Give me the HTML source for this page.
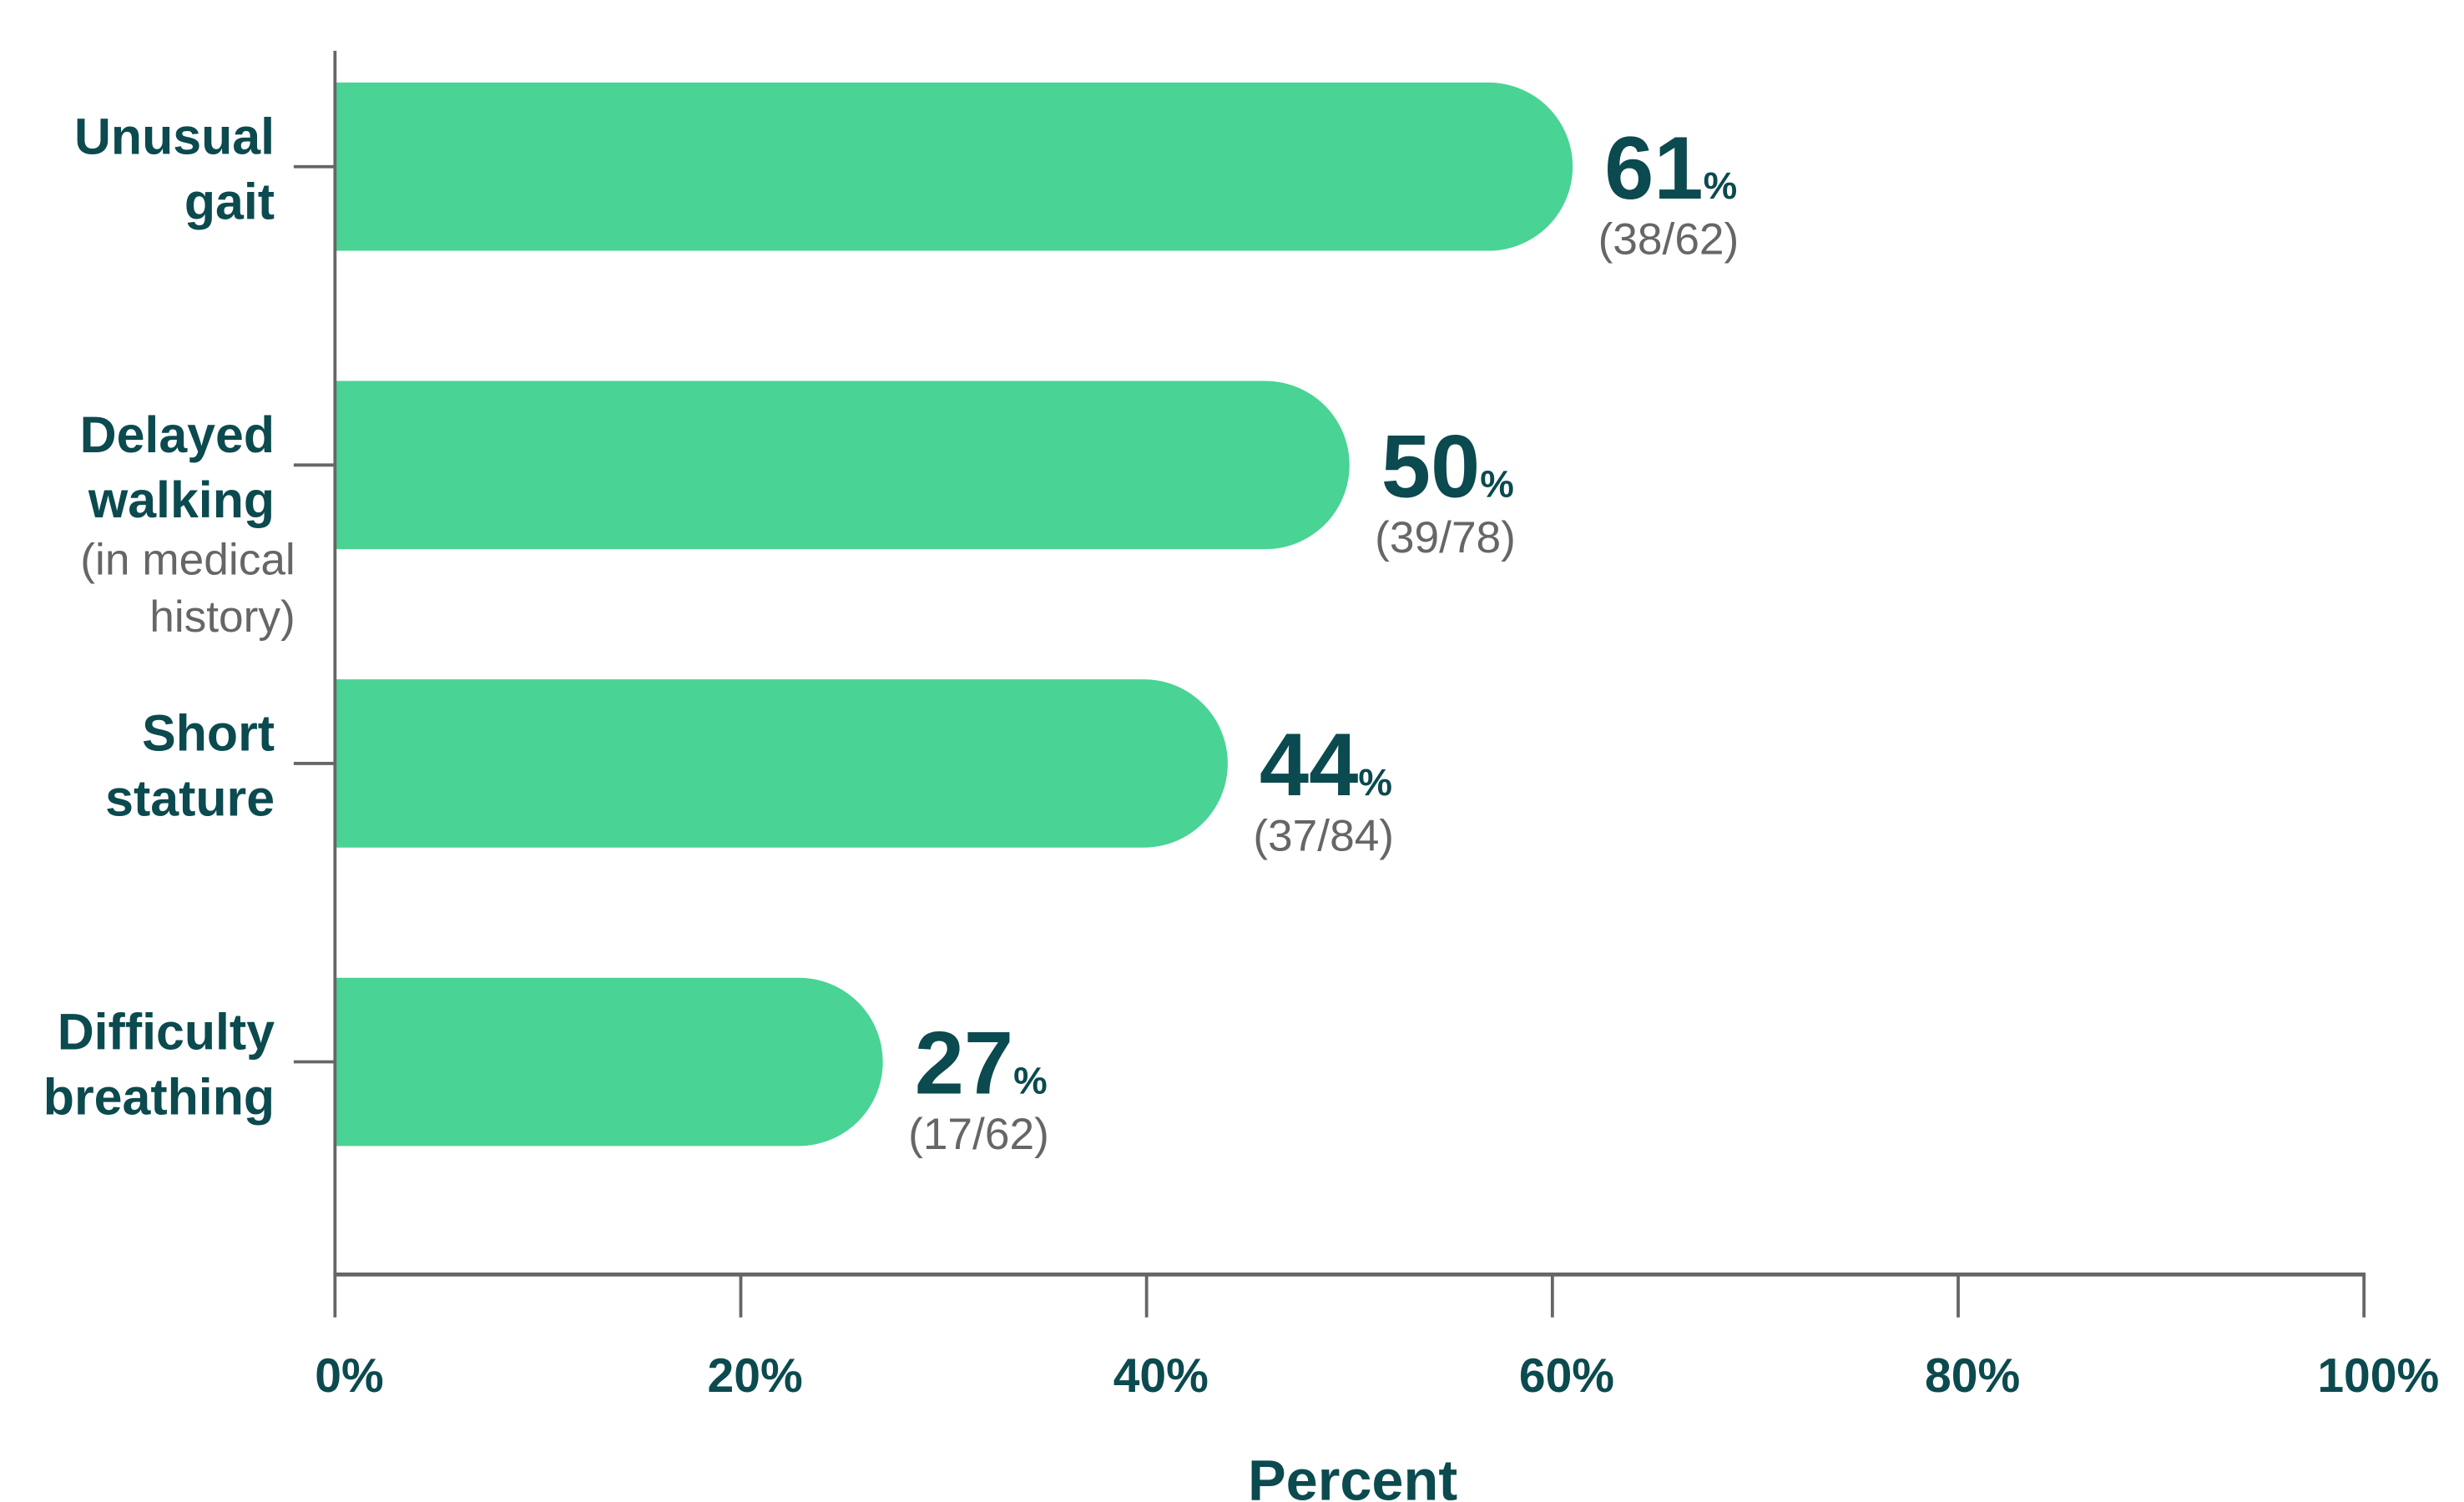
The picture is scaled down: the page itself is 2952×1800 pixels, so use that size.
<!DOCTYPE html>
<html><head><meta charset="utf-8"><style>
html,body{margin:0;padding:0;background:#fff;}
svg{display:block;font-family:"Liberation Sans",sans-serif;}
</style></head><body>
<svg id="chart" width="2952" height="1800" viewBox="0 0 1552 946.3" preserveAspectRatio="none" xmlns="http://www.w3.org/2000/svg"></svg>
<script>
const categories = [["Unusual","gait"],["Delayed","walking"],["Short","stature"],["Difficulty","breathing"]];
const subLabels = [[],["(in medical","history)"],[],[]];
const values = [61,50,44,27];
const counts = ["(38/62)","(39/78)","(37/84)","(17/62)"];
const ticks = [0,20,40,60,80,100];
const tickLabels = ["0%","20%","40%","60%","80%","100%"];

const NS="http://www.w3.org/2000/svg";
const svg=document.getElementById('chart');
const x0=211,x1=1489,yTop=32,yBase=803;
const xs=v=>x0+(x1-x0)*v/100;
const bandTop=52,bandStep=188,barH=106;
const yc=i=>bandTop+i*bandStep+barH/2;
function mk(tag,attrs,parent){const e=document.createElementNS(NS,tag);for(const k in attrs)e.setAttribute(k,attrs[k]);(parent||svg).appendChild(e);return e;}
const teal="#0b4a4f",gray="#666";

values.forEach((v,i)=>{
  const g=mk('g',{});
  
  
  const top=yc(i)-barH/2, r=barH/2, xe=xs(v);
  const p=mk('path',{d:`M${x0},${top} H${xe-r} A${r},${r} 0 0 1 ${xe-r},${top+barH} H${x0} Z`,fill:"#49d394"},g);
  
  
  const t=mk('text',{x:xe+20,y:yc(i)+20,fill:teal,'font-weight':'bold','font-size':56},g);
  
  
  t.textContent=v;
  const ts=mk('tspan',{'font-size':24},t);ts.textContent='%';
  const c=mk('text',{x:xe+16,y:yc(i)+55,fill:gray,'font-size':28},g);
  
  
  c.textContent=counts[i];
  const lines=categories[i];
  let y=yc(i)-8;
  lines.forEach((ln,j)=>{
    const lt=mk('text',{x:173,y:y+j*41,'text-anchor':'end',fill:teal,'font-weight':'bold','font-size':32});
    
    
    lt.textContent=ln;
  });
  subLabels[i].forEach((ln,j)=>{
    const lt=mk('text',{x:186,y:y+77+j*36,'text-anchor':'end',fill:gray,'font-size':28});
    
    
    lt.textContent=ln;
  });
  const tk=mk('line',{x1:185,x2:x0,y1:yc(i),y2:yc(i),stroke:gray,'stroke-width':2});
  
  
});

const ya=mk('line',{x1:x0,x2:x0,y1:yTop,y2:yBase,stroke:gray,'stroke-width':2});


const xa=mk('line',{x1:x0-1,x2:x1+1,y1:yBase,y2:yBase,stroke:gray,'stroke-width':2.5});


ticks.forEach((t,i)=>{
  const l=mk('line',{x1:xs(t),x2:xs(t),y1:yBase,y2:830,stroke:gray,'stroke-width':2});
  
  
  const tx=mk('text',{x:xs(t)+9,y:877,'text-anchor':'middle',fill:teal,'font-weight':'bold','font-size':30});
  
  
  tx.textContent=tickLabels[i];
});
const title=mk('text',{x:852,y:945,'text-anchor':'middle',fill:teal,'font-weight':'bold','font-size':36});


title.textContent='Percent';
</script>
</body></html>
